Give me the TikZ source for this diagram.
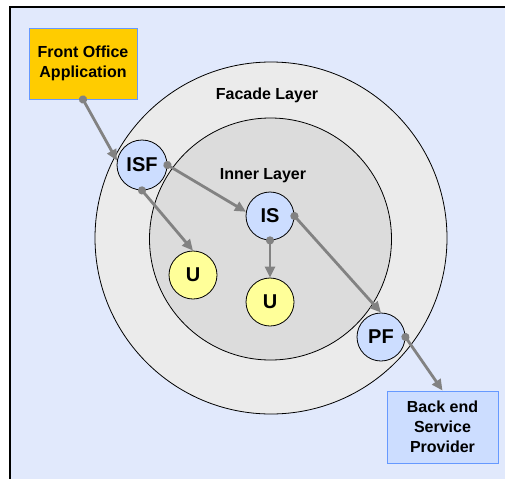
\documentclass[tikz,border=0pt]{standalone}
\usepackage{fontspec}
\setmainfont{Liberation Sans}
\usetikzlibrary{arrows.meta}
\definecolor{bgblue}{HTML}{E1E9FC}
\definecolor{facadegray}{HTML}{EBEBEB}
\definecolor{innergray}{HTML}{DCDCDC}
\definecolor{svcblue}{HTML}{CCDDFF}
\definecolor{utilyellow}{HTML}{FFFF99}
\definecolor{frontorange}{HTML}{FFCC00}
\definecolor{boxline}{HTML}{6699FF}
\definecolor{linkgray}{HTML}{828282}

\begin{document}
\begin{tikzpicture}[x=1pt,y=-1pt,
    svcnode/.style={circle,draw,line width=0.8pt,fill=svcblue,minimum size=48pt,inner sep=0pt,font=\fontsize{20}{24}\selectfont\bfseries},
    unode/.style={svcnode,fill=utilyellow},
    appbox/.style={draw=boxline,line width=0.9pt,align=center,inner sep=0pt,font=\fontsize{16}{20}\selectfont\bfseries},
    layertext/.style={font=\fontsize{16}{20}\selectfont\bfseries},
    flow/.style={draw=linkgray,line width=2.8pt,{Circle[length=8pt,fill=linkgray]}-{Triangle[length=11pt,width=10pt,fill=linkgray]},shorten <=-4pt}]
    \useasboundingbox (0,0) rectangle (505,479);
    \fill[bgblue] (10,7) rectangle (505,479);
    \draw[line width=1.2pt] (505,7) -- (10,7) -- (10,479);
    \draw[fill=facadegray,line width=0.8pt] (271,238) circle (176);
    \draw[fill=innergray,line width=0.8pt] (270.5,239) circle (121);
    \node[layertext] (facade) at (267,95) {Facade Layer};
    \node[layertext] (innerl) at (263,176) {Inner Layer};
    \node[appbox,fill=frontorange,minimum width=108pt,minimum height=71pt] (fo) at (83,63.5) {Front Office\\Application};
    \node[appbox,fill=svcblue,minimum width=111pt,minimum height=72pt] (be) at (442.5,427) {Back end\\Service\\Provider};
    \node[svcnode,minimum size=50pt] (isf) at (142,165) {ISF};
    \node[svcnode] (is) at (270,216) {IS};
    \node[unode] (u1) at (193,275) {U};
    \node[unode] (u2) at (270,302) {U};
    \node[svcnode] (pf) at (381,337) {PF};
    \draw[flow] (fo.south) -- (isf.170);
    \draw[flow] (isf.east) -- (is.170);
    \draw[flow] (isf.south) -- (u1.north);
    \draw[flow] (is.south) -- (u2.north);
    \draw[flow] (is.east) -- (pf.north);
    \draw[flow] (pf.east) -- (be.north);
\end{tikzpicture}
\end{document}
